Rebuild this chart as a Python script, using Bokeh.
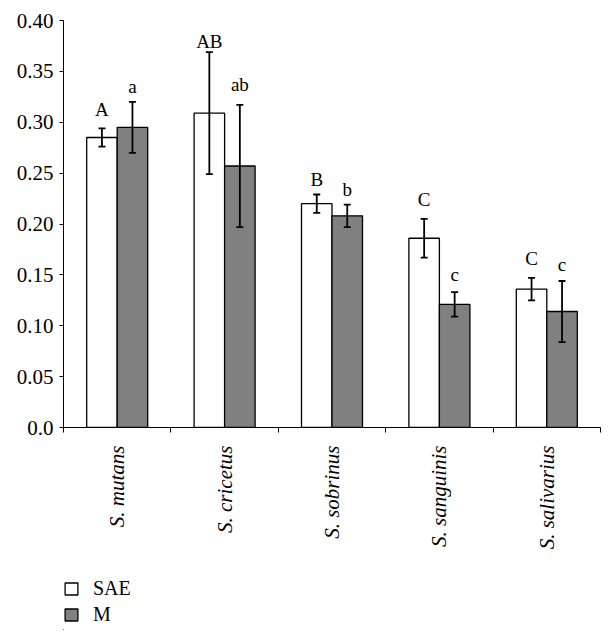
import math
from bokeh.plotting import figure
from bokeh.layouts import column
from bokeh.models import (ColumnDataSource, Range1d, FixedTicker, NumeralTickFormatter,
                          Whisker, TeeHead, Legend, LegendItem)
from bokeh.core.properties import value
from bokeh.embed import file_html
from bokeh.resources import INLINE

categories = ["S. mutans", "S. cricetus", "S. sobrinus", "S. sanguinis", "S. salivarius"]
sae_mean = [0.285, 0.309, 0.220, 0.186, 0.136]
sae_err = [0.009, 0.060, 0.009, 0.019, 0.011]
m_mean = [0.295, 0.257, 0.208, 0.121, 0.114]
m_err = [0.025, 0.060, 0.011, 0.012, 0.030]
sae_letters = ["A", "AB", "B", "C", "C"]
m_letters = ["a", "ab", "b", "c", "c"]
sae_letter_y = [0.3027, 0.3686, 0.2336, 0.2133, 0.1553]
m_letter_y = [0.3246, 0.3263, 0.2231, 0.1402, 0.1494]
y_ticks = [0.0, 0.05, 0.10, 0.15, 0.20, 0.25, 0.30, 0.35, 0.40]
series_names = ["SAE", "M"]
series_colors = ["white", "#808080"]

FONT = "Liberation Serif"
BW = 0.284
pos = list(range(1, len(categories) + 1))
sae_x = [p - BW / 2 for p in pos]
m_x = [p + BW / 2 for p in pos]

sae_src = ColumnDataSource(dict(x=sae_x, top=sae_mean,
                                upper=[a + b for a, b in zip(sae_mean, sae_err)],
                                lower=[a - b for a, b in zip(sae_mean, sae_err)],
                                ly=sae_letter_y, txt=sae_letters))
m_src = ColumnDataSource(dict(x=m_x, top=m_mean,
                              upper=[a + b for a, b in zip(m_mean, m_err)],
                              lower=[a - b for a, b in zip(m_mean, m_err)],
                              ly=m_letter_y, txt=m_letters))
sources = [sae_src, m_src]

p = figure(width=606, height=560, output_backend="svg", toolbar_location=None,
           x_range=Range1d(0.5, len(categories) + 0.5), y_range=Range1d(0, 0.4),
           min_border_left=63, min_border_right=6, min_border_top=20, min_border_bottom=133)
p.outline_line_color = None
p.xgrid.visible = False
p.ygrid.visible = False

for src, col in zip(sources, series_colors):
    p.vbar(x="x", top="top", bottom=0, width=BW, source=src,
           fill_color=col, line_color="black", line_width=1.3)

for src in sources:
    w = Whisker(base="x", upper="upper", lower="lower", source=src, line_color="black",
                line_width=1.8, level="overlay",
                upper_head=TeeHead(size=7, line_width=1.8, line_color="black"),
                lower_head=TeeHead(size=7, line_width=1.8, line_color="black"))
    p.add_layout(w)
    p.text(x="x", y="ly", text="txt", source=src, text_align="center",
           text_baseline="bottom", text_font=value(FONT), text_font_size="19px",
           text_color="black")

# y axis
ya = p.yaxis[0]
ya.ticker = FixedTicker(ticks=y_ticks)
ya.formatter = NumeralTickFormatter(format="0.00")
ya.major_label_overrides = {0: "0.0"}
ya.major_label_text_font = FONT
ya.major_label_text_font_size = "21px"
ya.major_label_text_color = "black"
ya.major_tick_out = 4
ya.major_tick_in = 0
ya.minor_tick_line_color = None
ya.axis_line_color = "black"
ya.major_label_standoff = 6

# x axis
xa = p.xaxis[0]
xa.ticker = FixedTicker(ticks=pos, minor_ticks=[v + 0.5 for v in range(0, len(categories) + 1)])
xa.major_label_overrides = {pv: c for pv, c in zip(pos, categories)}
xa.major_label_orientation = math.pi / 2
xa.major_label_text_font = FONT
xa.major_label_text_font_style = "italic"
xa.major_label_text_font_size = "21px"
xa.major_label_text_color = "black"
xa.major_tick_out = 0
xa.major_tick_in = 0
xa.minor_tick_out = 5
xa.minor_tick_in = 0
xa.minor_tick_line_color = "black"
xa.axis_line_color = "black"
xa.major_label_standoff = 13

# legend in a small figure below (its bars lie outside its visible range)
lg = figure(width=606, height=70, output_backend="svg", toolbar_location=None,
            x_axis_location=None, y_axis_location=None, min_border=0,
            min_border_left=63, min_border_right=6,
            x_range=Range1d(100, 101), y_range=Range1d(100, 101))
lg.outline_line_color = None
lg.xgrid.visible = False
lg.ygrid.visible = False
items = []
for name, col, src in zip(series_names, series_colors, sources):
    r = lg.vbar(x="x", top="top", bottom=0, width=BW, source=src,
                fill_color=col, line_color="black", line_width=1.3)
    items.append(LegendItem(label=name, renderers=[r]))
legend = Legend(items=items, location=(0, 4), orientation="vertical",
                glyph_width=16, glyph_height=15, label_standoff=14, spacing=3,
                padding=0, margin=0, border_line_color=None, background_fill_alpha=0,
                label_text_font=FONT, label_text_font_size="20px", label_text_color="black",
                label_height=15)
lg.add_layout(legend, "center")

layout = column(p, lg, spacing=0)
open("out.html", "w").write(file_html(layout, INLINE))
